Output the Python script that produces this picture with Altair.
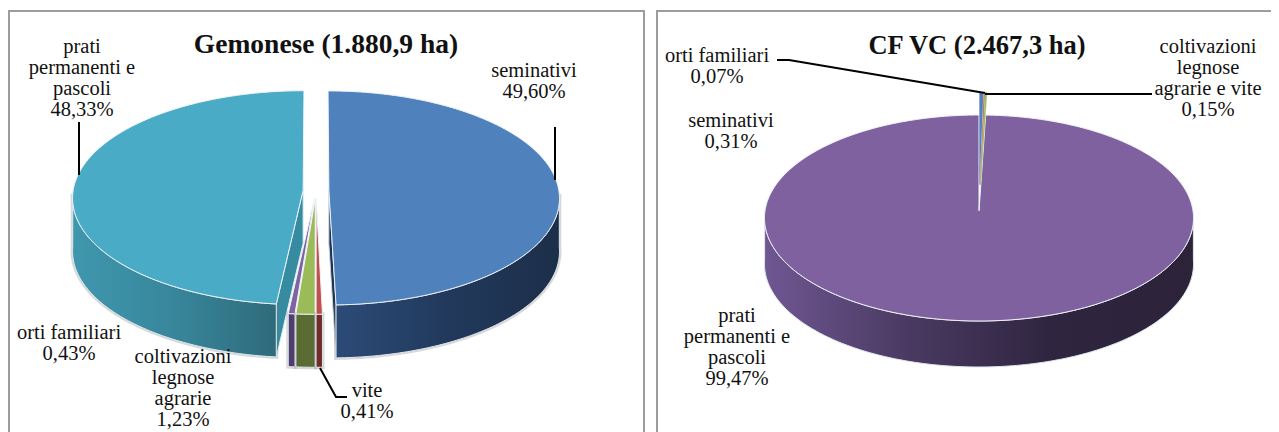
import numpy as np
import pandas as pd
import altair as alt

# ---- values (percent of area)
LEFT_NAMES = ["seminativi", "vite", "coltivazioni legnose agrarie", "orti familiari", "prati permanenti e pascoli"]
LEFT_SHARES = [49.60, 0.41, 1.23, 0.43, 48.33]
RIGHT_NAMES = ["seminativi", "orti familiari", "coltivazioni legnose agrarie e vite", "prati permanenti e pascoli"]
RIGHT_SHARES = [0.31, 0.07, 0.15, 99.47]
LEFT_TITLE = "Gemonese (1.880,9 ha)"
RIGHT_TITLE = "CF VC (2.467,3 ha)"

FONT = "Liberation Serif"
FS = 20.5
K = -0.07  # perspective of the tilted disc

XS = alt.Scale(domain=[8, 1271], range=[0, 1263], nice=False, zero=False)
YS = alt.Scale(domain=[432, 8], range=[424, 0], nice=False, zero=False)
layers = []


def enc():
    return dict(x=alt.X("x:Q", scale=XS, axis=None), y=alt.Y("y:Q", scale=YS, axis=None))


def stops(*cols):
    n = len(cols) - 1
    return alt.LinearGradient(gradient="linear", x1=0, x2=1, y1=0, y2=0,
                              stops=[alt.GradientStop(offset=i / n, color=c) for i, c in enumerate(cols)])


def poly(pts, **mark):
    df = pd.DataFrame(pts, columns=["x", "y"]).reset_index(names="i")
    layers.append(alt.Chart(df).mark_line(interpolate="linear-closed", **mark).encode(order="i:Q", **enc()))


def segs(pts, color="#000000", width=2):
    df = pd.DataFrame(pts, columns=["x", "y"]).reset_index(names="i")
    layers.append(alt.Chart(df).mark_line(color=color, strokeWidth=width).encode(order="i:Q", **enc()))


def text(lines, x, y, size=FS, bold=False):
    df = pd.DataFrame({"t": lines, "x": x, "y": [y + 21 * i for i in range(len(lines))]})
    layers.append(alt.Chart(df).mark_text(
        font=FONT, fontSize=size, fontWeight="bold" if bold else "normal",
        color="#111111", align="center", baseline="middle").encode(text="t:N", **enc()))


class Pie:
    def __init__(self, cx, cy, rx, ry, depth):
        self.cx, self.cy, self.rx, self.ry, self.depth = cx, cy, rx, ry, depth

    def pt(self, u, v, d=0.0):
        den = 1 + K * v
        return (self.cx + self.rx * u / den, self.cy + self.ry * (v + K) / den + d)

    def rim(self, t0, t1, ex):
        mid = np.radians((t0 + t1) / 2)
        ou, ov = ex * np.sin(mid), -ex * np.cos(mid)
        ts = np.radians(np.linspace(t0, t1, max(2, int(abs(t1 - t0)) + 2)))
        return [(ou + np.sin(t), ov - np.cos(t)) for t in ts], (ou, ov)

    def slice(self, t0, t1, ex, top, wall=None, flat=None, start_flat=False, end_flat=False,
              halo=True, edge="#eef3f8", edge_w=1.0):
        arc, (ou, ov) = self.rim(t0, t1, ex)
        c = self.pt(ou, ov)
        cb = self.pt(ou, ov, self.depth)
        if flat and start_flat:
            a = self.pt(*arc[0])
            poly([c, a, (a[0], a[1] + self.depth), cb], fill=flat, stroke="#d8eef2", strokeWidth=1)
        if flat and end_flat:
            a = self.pt(*arc[-1])
            poly([c, a, (a[0], a[1] + self.depth), cb], fill=flat, stroke="#c8d4e2", strokeWidth=1)
        if wall is not None:
            lo, hi = max(t0, 92), min(t1, 268)
            if hi > lo:
                f, _ = self.rim(lo, hi, 0)
                f = [(u + ou, v + ov) for u, v in f]
                up = [self.pt(u, v) for u, v in f]
                dn = [self.pt(u, v, self.depth) for u, v in f][::-1]
                if halo:
                    poly(up + dn, stroke="#777777", strokeWidth=4, opacity=0.28, fill="transparent")
                poly(up + dn, fill=wall, stroke="#dfe6ee", strokeWidth=1)
        poly([c] + [self.pt(u, v) for u, v in arc], fill=top, stroke=edge, strokeWidth=edge_w)


def angles(shares):
    e = np.cumsum([0] + shares) / sum(shares) * 360
    return list(zip(e[:-1], e[1:]))


# ---- frames
FRAME = "#9c9c9c"
segs([(9, 440), (9, 11), (644, 11), (644, 440)], FRAME, 2)
segs([(657, 440), (657, 11), (1290, 11)], FRAME, 2)

# ---- left pie
L = Pie(316, 198, 230, 107, 53)
a = angles(LEFT_SHARES)
EX = 0.056
EX_SMALL = 0.075
L.slice(*a[4], EX, "#4aabc6", stops("#3f97ae", "#38869b", "#2e6b7b"), "#368ba1", start_flat=True)
L.slice(*a[0], EX, "#4f81bd", stops("#2b4b77", "#22395c", "#1c2f49"), "#1d3350", end_flat=True)
L.slice(*a[3], EX_SMALL, "#8064a2", "#4f3d6e")
L.slice(*a[2], EX_SMALL, "#9bbb59", "#5a6b33")
L.slice(*a[1], EX_SMALL, "#c0504d", "#6f2c2a")
text(["prati", "permanenti e", "pascoli", "48,33%"], 82, 47)
text(["seminativi", "49,60%"], 534, 71)
text(["orti familiari", "0,43%"], 69, 333)
text(["coltivazioni", "legnose", "agrarie", "1,23%"], 183, 357)
text(["vite", "0,41%"], 367, 391)
text([LEFT_TITLE], 326, 45, 27.5, True)
segs([(79, 122), (79, 175)])
segs([(555, 127), (555, 180)])
segs([(320, 368), (336, 397), (347, 397)])

# ---- right pie
R = Pie(979, 218, 214, 103, 46)
a = angles(RIGHT_SHARES)
R.slice(*a[3], 0.0, "#8061a0", stops("#6f5792", "#4a3a62", "#2f2540", "#2c2339"), halo=False)
EXR = 0.26
R.slice(*a[0], EXR, "#4f81bd", edge="#4f81bd", edge_w=0.3)
R.slice(*a[1], EXR, "#c0504d", edge="#c0504d", edge_w=0.3)
R.slice(*a[2], EXR, "#9bbb59", edge="#9bbb59", edge_w=0.3)
text(["orti familiari", "0,07%"], 717, 56)
text(["coltivazioni", "legnose", "agrarie e vite", "0,15%"], 1208, 47)
text(["seminativi", "0,31%"], 731, 121)
text(["prati", "permanenti e", "pascoli", "99,47%"], 737, 316)
text([RIGHT_TITLE], 977, 46, 26.5, True)
segs([(777, 60), (789, 60), (985, 93)])
segs([(985, 94), (1152, 94)])

chart = alt.layer(*layers).properties(
    width=1263, height=424, padding=0, autosize=alt.AutoSizeParams(type="none")
).configure_view(stroke=None)

chart.save("out.html", embed_options={"renderer": "svg", "actions": False})
